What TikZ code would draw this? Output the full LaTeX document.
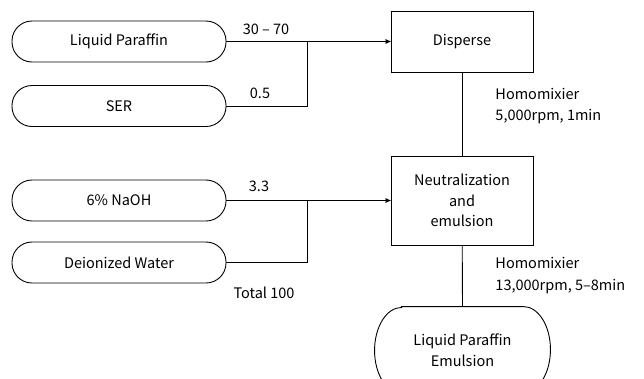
\documentclass[tikz,border=0pt]{standalone}
\usepackage{fontspec}
\setmainfont{Noto Sans CJK JP}
\usetikzlibrary{arrows,positioning}

\begin{document}
\begin{tikzpicture}[x=1pt,y=-1pt,>=stealth',line width=0.9pt,
	font=\fontsize{14.5}{20.5}\selectfont]
	\tikzset{feed/.style={draw,rounded corners=20pt,minimum width=214pt,minimum height=41pt,inner sep=0pt},
		process/.style={draw,minimum width=142pt,inner sep=0pt,align=center},
		qty/.style={inner sep=0pt},
		note/.style={anchor=west,align=left,inner sep=0pt,font=\fontsize{14.5}{21.5}\selectfont}}

	\useasboundingbox (0,0) rectangle (644,378);
	\clip (0,0) rectangle (644,378);

	\node[feed]    (paraffin) at (119,41.5)  {Liquid Paraffin};
	\node[feed]    (ser)      at (119,106)   {SER};
	\node[feed]    (naoh)     at (119,200.5) {6\% NaOH};
	\node[feed]    (water)    at (119,262.5) {Deionized Water};

	\node[process,minimum height=61pt] (disperse) at (462,41.5)  {Disperse};
	\node[process,minimum height=89pt] (neutral)  at (462,200.5) {Neutralization\\and\\emulsion};
	\node[minimum width=175pt,minimum height=86pt,inner sep=0pt,align=center]
		(emulsion) at (462.5,350) {Liquid Paraffin\\Emulsion};
	% pill with elliptic ends
	\draw ([xshift=27pt]emulsion.north west) -- ([xshift=-27pt]emulsion.north east)
		arc[start angle=90,end angle=-90,x radius=27pt,y radius=43pt]
		-- ([xshift=27pt]emulsion.south west)
		arc[start angle=270,end angle=90,x radius=27pt,y radius=43pt] -- cycle;

	\coordinate (j1) at (307,0);
	\coordinate (j2) at (307,0);

	\draw[->] (paraffin.east) -- (paraffin.east -| disperse.west);
	\draw (ser.east) -| (j1 |- paraffin.east);
	\draw[->] (naoh.east) -- (naoh.east -| neutral.west);
	\draw (water.east) -| (j2 |- naoh.east);
	\draw (disperse) -- (neutral);
	\draw (neutral) -- (emulsion.north);

	\node[qty] (q1) at (266,29)  {30 – 70};
	\node[qty] (q2) at (260,93)  {0.5};
	\node[qty] (q3) at (259,186) {3.3};
	\node[qty] (q4) at (264,293) {Total 100};

	\node[note] (mix1) at (495,106) {Homomixier\\5,000rpm, 1min};
	\node[note] (mix2) at (495,275.5) {Homomixier\\13,000rpm, 5–8min};
\end{tikzpicture}
\end{document}
